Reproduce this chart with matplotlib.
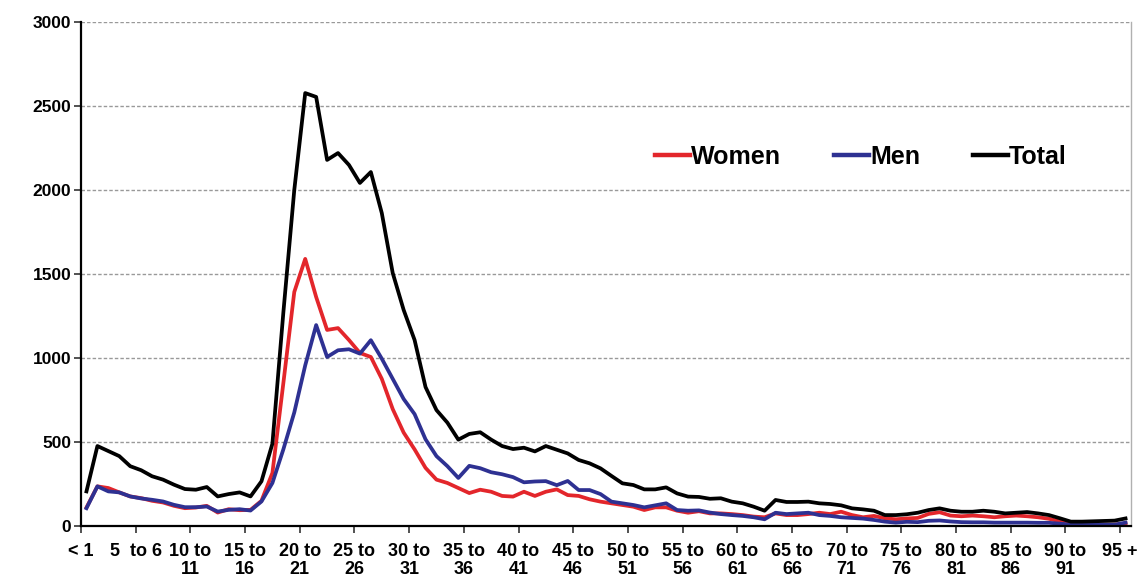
import matplotlib
matplotlib.use("Agg")
import matplotlib.pyplot as plt
import numpy as np

# ---- data (one point per year of age, 0 .. 95+) ----
women = [110, 236, 226, 200, 176, 166, 150, 140, 120, 106, 110, 120, 80, 100, 94, 96, 150, 316, 850, 1393,
         1590, 1363, 1167, 1178, 1107, 1030, 1006, 876, 696, 556, 456, 346, 276, 256, 226, 196, 216, 204, 179, 175,
         204, 179, 204, 218, 184, 179, 159, 145, 135, 125, 115, 95, 111, 111, 91, 79, 88, 75, 75, 71,
         65, 56, 52, 75, 65, 65, 71, 79, 71, 85, 65, 52, 60, 46, 40, 45, 48, 72, 82, 62,
         58, 62, 58, 52, 58, 62, 58, 52, 43, 27, 14, 8, 8, 8, 8, 15]
men = [106, 236, 206, 200, 176, 164, 156, 146, 126, 112, 112, 116, 86, 96, 100, 92, 146, 256, 456, 676,
       956, 1196, 1006, 1046, 1052, 1026, 1106, 996, 876, 756, 666, 516, 416, 356, 286, 358, 344, 320, 308, 291,
       260, 265, 267, 243, 268, 214, 214, 190, 145, 135, 125, 111, 123, 135, 95, 91, 93, 80, 71, 65,
       60, 52, 40, 79, 71, 75, 79, 65, 60, 52, 48, 44, 36, 26, 20, 25, 23, 31, 33, 27,
       23, 22, 22, 20, 20, 20, 20, 19, 19, 14, 8, 8, 8, 8, 8, 20]
total = [206, 476, 446, 416, 356, 332, 296, 276, 246, 220, 216, 232, 176, 190, 200, 176, 266, 490, 1270, 2000,
         2577, 2554, 2179, 2220, 2149, 2042, 2107, 1863, 1506, 1286, 1107, 827, 690, 615, 514, 548, 558, 514, 476, 458,
         466, 444, 476, 454, 432, 393, 373, 343, 298, 254, 244, 218, 218, 230, 194, 175, 173, 162, 165, 145,
         135, 115, 91, 155, 143, 143, 145, 135, 131, 123, 105, 99, 91, 65, 65, 70, 79, 95, 105, 91,
         85, 85, 91, 85, 75, 79, 83, 75, 65, 46, 26, 26, 28, 30, 32, 45]

tick_labels = ["< 1", "5  to 6", "10 to\n11", "15 to\n16", "20 to\n21", "25 to\n26", "30 to\n31",
               "35 to\n36", "40 to\n41", "45 to\n46", "50 to\n51", "55 to\n56", "60 to\n61",
               "65 to\n66", "70 to\n71", "75 to\n76", "80 to\n81", "85 to\n86", "90 to\n91", "95 +"]
series_names = ["Women", "Men", "Total"]
series_colors = ["#e3262b", "#2e3192", "#000000"]

plt.rcParams['font.family'] = ['Liberation Sans', 'DejaVu Sans']

fig = plt.figure(figsize=(11.48, 5.83), dpi=100)
ax = fig.add_axes([81 / 1148, 1 - 526 / 583, (1131 - 81) / 1148, (526 - 22) / 583])

x = np.arange(len(total))
for vals, name, col in zip([women, men, total], series_names, series_colors):
    ax.plot(x, vals, color=col, lw=2.7, label=name, solid_joinstyle='round')

ax.set_xlim(-0.5, len(total) - 0.5)
ax.set_ylim(0, 3000)
ax.set_yticks(np.arange(0, 3001, 500))
ax.set_yticklabels([str(v) for v in range(0, 3001, 500)], fontsize=12.5, fontweight='bold')

tick_pos = np.arange(len(tick_labels)) * 5 - 0.5
ax.set_xticks(tick_pos)
ax.set_xticklabels(tick_labels, fontsize=13, fontweight='bold', linespacing=1.1)

ax.grid(axis='y', color='#999999', linestyle=(0, (2.5, 1.5)), lw=1.0)
ax.set_axisbelow(True)

ax.spines['top'].set_visible(False)
ax.spines['right'].set_color('#b0b0b0')
ax.spines['right'].set_linewidth(1.0)
ax.spines['left'].set_linewidth(1.6)
ax.spines['bottom'].set_linewidth(1.6)
ax.tick_params(axis='both', direction='out', length=5, width=1.2, color='#333333')
ax.tick_params(axis='y', pad=2)
ax.tick_params(axis='x', pad=7)

leg = ax.legend(loc='center left', bbox_to_anchor=(655 / 1148, 1 - 157 / 583),
                bbox_transform=fig.transFigure, ncol=3, frameon=False,
                prop={'weight': 'bold', 'size': 18}, handlelength=1.4,
                handletextpad=0.05, columnspacing=2.1, borderpad=0, borderaxespad=0)
for line in leg.get_lines():
    line.set_linewidth(3.2)

fig.savefig("out.png", dpi=100)
